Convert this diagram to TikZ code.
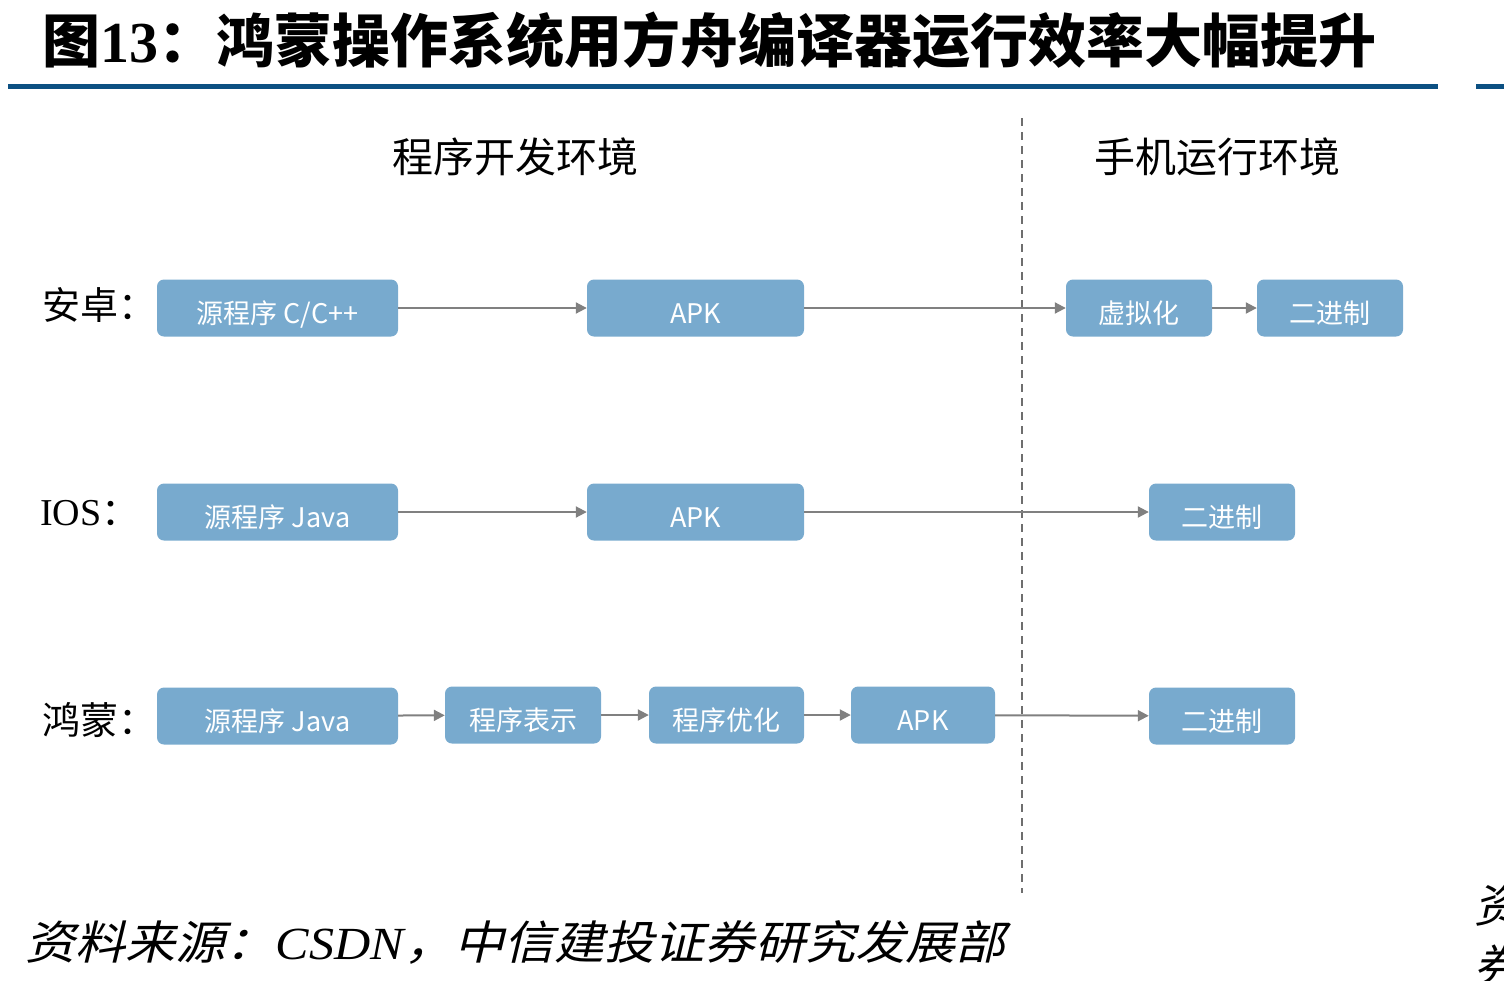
\documentclass[tikz,border=0pt]{standalone}
\usepackage{fontspec}
\setmainfont{Liberation Serif}
\newfontfamily\cjk{Noto Sans CJK SC}
\newfontfamily\cjkit{Noto Sans CJK SC}[FakeSlant=0.22]
\usetikzlibrary{arrows.meta}
\definecolor{lineblue}{RGB}{12,80,130}
\definecolor{boxblue}{RGB}{120,170,206}
\definecolor{arrowgray}{RGB}{128,128,128}
\definecolor{dashgray}{RGB}{110,110,110}
\newcommand{\boxtxt}[1]{\raisebox{-7pt}[0.8em][0.2em]{#1}}
\tikzset{
  flowbox/.style={rounded corners=7pt, fill=boxblue, draw=none, text=white,
    minimum height=57pt, inner sep=0pt, font=\cjk\fontsize{27}{27}\selectfont},
  flowarrow/.style={draw=arrowgray, line width=2pt,
    -{Triangle[length=11pt,width=11pt]}},
  rowlabel/.style={anchor=west, inner sep=0pt, font=\cjk\fontsize{38}{38}\selectfont},
  header/.style={inner sep=0pt, font=\cjk\fontsize{41}{41}\selectfont},
}
\begin{document}
\begin{tikzpicture}[x=1pt,y=-1pt]
\useasboundingbox (0,0) rectangle (1504,980);
% title
\node[anchor=west, inner sep=0pt] (title) at (42,40)
  {\fontsize{58}{58}\selectfont{\cjk\bfseries 图}{\bfseries 13}{\cjk\bfseries ：鸿蒙操作系统用方舟编译器运行效率大幅提升}};
\fill[lineblue] (8,84) rectangle (1438,89);
\fill[lineblue] (1476,84) rectangle (1504,89);
% headers
\node[header] (h1) at (515,157) {程序开发环境};
\node[header] (h2) at (1217,157) {手机运行环境};
% divider
\coordinate (dtop) at (1022,118);
\coordinate (dbot) at (1022,893);
\draw[dashgray, line width=1.5pt, dash pattern=on 8pt off 6pt] (dtop) -- (dbot);
% row labels
\node[rowlabel] (l1) at (42,305) {安卓：};
\node[rowlabel] (l2) at (40,513) {{\rmfamily IOS}：};
\node[rowlabel] (l3) at (42,720) {鸿蒙：};
% row 1
\node[flowbox, minimum width=241pt] (a1) at (277.5,308) {\boxtxt{源程序 C/C++}};
\node[flowbox, minimum width=217pt] (a2) at (695.5,308) {\boxtxt{APK}};
\node[flowbox, minimum width=146pt] (a3) at (1139,308) {\boxtxt{虚拟化}};
\node[flowbox, minimum width=146pt] (a4) at (1330,308) {\boxtxt{二进制}};
\draw[flowarrow] (a1) -- (a2);
\draw[flowarrow] (a2) -- (a3);
\draw[flowarrow] (a3) -- (a4);
% row 2
\node[flowbox, minimum width=241pt] (b1) at (277.5,512) {\boxtxt{源程序 Java}};
\node[flowbox, minimum width=217pt] (b2) at (695.5,512) {\boxtxt{APK}};
\node[flowbox, minimum width=146pt] (b3) at (1222,512) {\boxtxt{二进制}};
\draw[flowarrow] (b1) -- (b2);
\draw[flowarrow] (b2) -- (b3);
% row 3
\node[flowbox, minimum width=241pt] (c1) at (277.5,716) {\boxtxt{源程序 Java}};
\node[flowbox, minimum width=156pt] (c2) at (523,715) {\boxtxt{程序表示}};
\node[flowbox, minimum width=155pt] (c3) at (726.5,715) {\boxtxt{程序优化}};
\node[flowbox, minimum width=144pt] (c4) at (923,715) {\boxtxt{APK}};
\node[flowbox, minimum width=146pt] (c5) at (1222,716) {\boxtxt{二进制}};
\draw[flowarrow] (c1) -- (c2);
\draw[flowarrow] (c2) -- (c3);
\draw[flowarrow] (c3) -- (c4);
\draw[flowarrow] (c4) -- (c5);
% source
\node[anchor=west, inner sep=0pt] (src) at (25,942)
  {\scalebox{1.09}[1]{\fontsize{46}{46}\selectfont{\cjkit 资料来源：}{\itshape CSDN}{\cjkit ，中信建投证券研究发展部}}};
% cut-off fragments at right edge (as in the reference)
\node[anchor=west, inner sep=0pt, font=\cjkit\fontsize{46}{46}\selectfont] (f1) at (1474,905) {资};
\node[anchor=west, inner sep=0pt, font=\cjkit\fontsize{46}{46}\selectfont] (f2) at (1474,965) {券};
\end{tikzpicture}
\end{document}
